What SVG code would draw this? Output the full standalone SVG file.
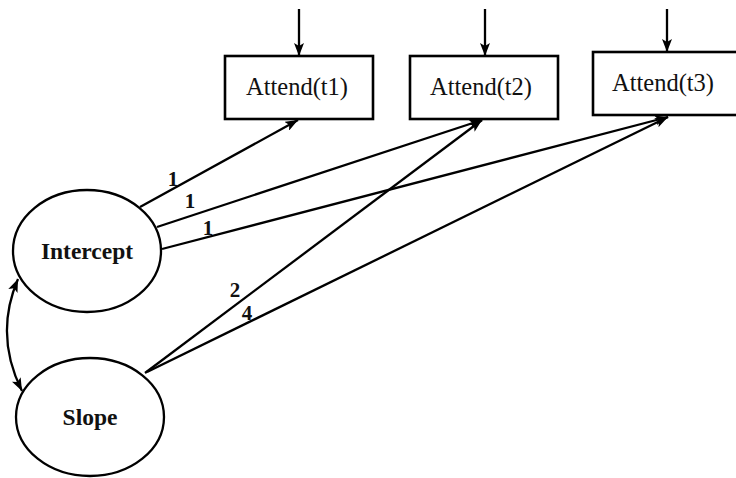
<svg xmlns="http://www.w3.org/2000/svg" width="736" height="478" viewBox="0 0 736 478">
<defs>
<marker id="ah" markerWidth="13" markerHeight="10" refX="13" refY="5" orient="auto" markerUnits="userSpaceOnUse">
<path d="M0,0 L13,5 L0,10 L3,5 z" fill="#000"/>
</marker>
<marker id="ahs" markerWidth="13" markerHeight="10" refX="0" refY="5" orient="auto" markerUnits="userSpaceOnUse">
<path d="M13,0 L0,5 L13,10 L10,5 z" fill="#000"/>
</marker>
<style>
.box{fill:#fff;stroke:#000;stroke-width:2.6}
.ell{fill:#fff;stroke:#000;stroke-width:2.3}
.lbl{font-family:"Liberation Serif","Times New Roman",serif;font-size:24.5px;fill:#111;text-anchor:middle}
.lat{font-family:"Liberation Serif","Times New Roman",serif;font-size:23.5px;font-weight:bold;fill:#111;text-anchor:middle}
.num{font-family:"Liberation Serif","Times New Roman",serif;font-size:21px;font-weight:bold;fill:#111;text-anchor:middle}
.c{fill:none;stroke:#000;stroke-width:2.3;marker-end:url(#ah)}
</style>
</defs>
<rect width="736" height="478" fill="#fff"/>
<g id="connectors">
<line class="c" x1="299" y1="9" x2="299" y2="56"/>
<line class="c" x1="485" y1="9" x2="485" y2="56"/>
<line class="c" x1="667" y1="9" x2="667" y2="52"/>
<line class="c" x1="140" y1="207" x2="298" y2="120"/>
<line class="c" x1="157" y1="227" x2="482" y2="120"/>
<line class="c" x1="162" y1="249" x2="668" y2="117"/>
<line class="c" x1="145" y1="373" x2="482" y2="120"/>
<line class="c" x1="147" y1="372" x2="668" y2="117"/>
<path class="c" d="M18,279 Q-6,335 22,391" marker-start="url(#ahs)"/>
<text class="num" x="173" y="186">1</text>
<text class="num" x="190" y="208">1</text>
<text class="num" x="208" y="235">1</text>
<text class="num" x="235" y="297">2</text>
<text class="num" x="247" y="320">4</text>
</g>
<g id="attend1">
<rect class="box" x="225" y="56" width="148" height="63"/>
<text class="lbl" x="297" y="95">Attend(t1)</text>
</g>
<g id="attend2">
<rect class="box" x="410" y="56" width="148" height="63"/>
<text class="lbl" x="481" y="95">Attend(t2)</text>
</g>
<g id="attend3">
<rect class="box" x="593" y="52" width="150" height="63"/>
<text class="lbl" x="663" y="91">Attend(t3)</text>
</g>
<g id="intercept">
<ellipse class="ell" cx="87" cy="251" rx="74" ry="61"/>
<text class="lat" x="87" y="259">Intercept</text>
</g>
<g id="slope">
<ellipse class="ell" cx="90" cy="417" rx="74" ry="59"/>
<text class="lat" x="90" y="425">Slope</text>
</g>
</svg>
